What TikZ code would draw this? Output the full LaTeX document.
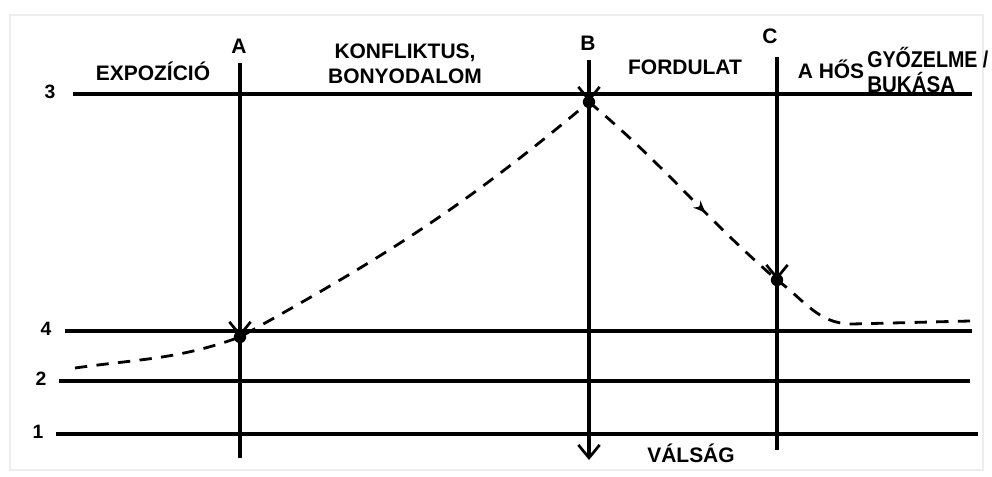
\documentclass[tikz,border=0pt]{standalone}
\usepackage{fontspec}
\setmainfont{Liberation Sans}
\usetikzlibrary{arrows.meta,decorations.markings}
\tikzset{
  lvl/.style={line width=3.3pt},
  stage/.style={line width=3pt},
  curve/.style={line width=2.4pt, dash pattern=on 10.5pt off 8pt},
  pt/.style={circle, fill=black, minimum size=0.37cm, inner sep=0pt},
  tip/.style={-{Straight Barb[length=3.9mm,width=6.4mm,line width=2.3pt]}},
  midtip/.style={postaction={decorate}, decoration={markings,
      mark=at position #1 with {\arrow{Stealth[length=3.6mm,width=3mm]}}}},
  lab/.style={font=\fontsize{17.9}{21.3}\selectfont\bfseries, anchor=base, inner sep=0pt},
  num/.style={font=\fontsize{16.5}{19}\selectfont\bfseries, anchor=base, inner sep=0pt},
  frame/.style={draw=black!7, line width=1.5pt},
}

\begin{document}
\begin{tikzpicture}[x=0.03cm,y=-0.03cm]
  \useasboundingbox (0,0) rectangle (992,476);
  \draw[frame] (10,15) rectangle (983,470);

  % levels
  \foreach \n/\y/\xl/\xa/\xb in {3/94/50/73/972, 4/331/46/65/972, 2/381/41/59/970, 1/434/38/56/978}{
    \node[num] (n\n) at (\xl,\y+4) {\n};
    \coordinate (l\n a) at (\xa,\y);
    \coordinate (l\n b) at (\xb,\y);
    \draw[lvl] (l\n a) -- (l\n b);
  }

  % turning points
  \node[pt] (pa) at (240,337) {};
  \node[pt] (pb) at (589,102) {};
  \node[pt] (pc) at (777,280) {};
  \coordinate (s) at (75,368);
  \coordinate (e1) at (852,324);
  \coordinate (e) at (970,321);

  % verticals
  \coordinate (at) at (240,63);
  \coordinate (ab) at (240,458);
  \coordinate (bt) at (589,60);
  \coordinate (bb) at (589,460);
  \coordinate (ct) at (777,57);
  \coordinate (cb) at (777,450);
  \draw[stage, tip] (at) -- (pa.center);
  \draw[stage] (pa.center) -- (ab);
  \draw[stage, tip] (bt) -- (pb.center);
  \draw[stage, tip] (pb.center) -- (bb);
  \draw[stage, tip] (ct) -- (pc.center);
  \draw[stage] (pc.center) -- (cb);

  % dashed course
  \draw[curve] (s) to[out=8,in=200] (pa.center) to[out=29,in=220] (pb.center);
  \draw[curve, midtip=0.62] (pb.center) to[out=-40,in=139] (pc.center);
  \draw[curve] (pc.center) to[out=-36,in=180] (e1) -- (e);

  % labels
  \node[lab] (la) at (239,53) {A};
  \node[lab] (lb) at (588,50) {B};
  \node[lab] (lc) at (770,43) {C};
  \node[lab] (expo) at (153,80) {EXPOZÍCIÓ};
  \node[lab] (konf) at (405,58) {KONFLIKTUS,};
  \node[lab] (bony) at (405,83) {BONYODALOM};
  \node[lab] (ford) at (685,74) {FORDULAT};
  \node[lab] (hos) at (831,78) {A HŐS};
  \node[lab, anchor=base west, font=\fontsize{19.5}{22}\selectfont\bfseries] (gyoz) at (867,67) {\scalebox{0.86}[1]{GYŐZELME /}};
  \node[lab, anchor=base west, font=\fontsize{19.5}{22}\selectfont\bfseries] (buk) at (867,92) {\scalebox{0.9}[1]{BUKÁSA}};
  \node[lab] (vals) at (691,462) {VÁLSÁG};
\end{tikzpicture}
\end{document}
